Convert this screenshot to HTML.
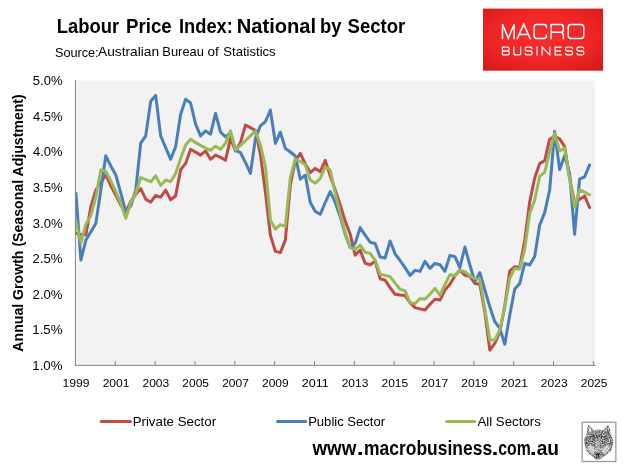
<!DOCTYPE html>
<html><head><meta charset="utf-8"><title>Labour Price Index</title>
<style>
html,body{margin:0;padding:0;background:#fff;}
body{width:623px;height:472px;overflow:hidden;font-family:"Liberation Sans",sans-serif;}
svg{display:block;will-change:transform;}
text{font-family:"Liberation Sans",sans-serif;fill:#000;}
</style></head><body>
<svg width="623" height="472" viewBox="0 0 623 472">
<defs>
<radialGradient id="lg" cx="50%" cy="45%" r="70%">
<stop offset="0" stop-color="#fb2d2d"/><stop offset="0.6" stop-color="#ef2525"/><stop offset="1" stop-color="#d41a1a"/>
</radialGradient>
<filter id="sp" x="0" y="0" width="100%" height="100%">
<feTurbulence type="fractalNoise" baseFrequency="0.85" numOctaves="2" seed="7" result="n"/>
<feColorMatrix in="n" type="matrix" values="0 0 0 0 1  0 0 0 0 1  0 0 0 0 1  0 0 0 2.4 -1.15" result="w"/>
<feComposite in="w" in2="SourceGraphic" operator="in" result="wi"/>
<feTurbulence type="fractalNoise" baseFrequency="0.8" numOctaves="2" seed="23" result="n2"/>
<feColorMatrix in="n2" type="matrix" values="0 0 0 0 0.1  0 0 0 0 0.1  0 0 0 0 0.1  0 0 0 2.4 -1.2" result="k"/>
<feComposite in="k" in2="SourceGraphic" operator="in" result="ki"/>
<feMerge><feMergeNode in="SourceGraphic"/><feMergeNode in="ki"/><feMergeNode in="wi"/></feMerge>
</filter>
<clipPath id="pc"><rect x="75" y="80" width="521" height="286"/></clipPath>
</defs>
<rect width="623" height="472" fill="#fff"/>
<!-- title -->
<text x="56.80" y="32.9" font-size="21" font-weight="bold" textLength="62.35" lengthAdjust="spacingAndGlyphs">Labour</text>
<text x="126.09" y="32.9" font-size="21" font-weight="bold" textLength="45.59" lengthAdjust="spacingAndGlyphs">Price</text>
<text x="179.01" y="32.9" font-size="21" font-weight="bold" textLength="53.81" lengthAdjust="spacingAndGlyphs">Index:</text>
<text x="236.69" y="32.9" font-size="21" font-weight="bold" textLength="79.42" lengthAdjust="spacingAndGlyphs">National</text>
<text x="320.11" y="32.9" font-size="21" font-weight="bold" textLength="21.42" lengthAdjust="spacingAndGlyphs">by</text>
<text x="347.54" y="32.9" font-size="21" font-weight="bold" textLength="57.69" lengthAdjust="spacingAndGlyphs">Sector</text>
<text x="54.93" y="57.1" font-size="13.6" textLength="43.73" lengthAdjust="spacingAndGlyphs">Source:</text>
<text x="98.03" y="56.3" font-size="13.6" textLength="61.09" lengthAdjust="spacingAndGlyphs">Australian</text>
<text x="162.37" y="56.3" font-size="13.6" textLength="41.57" lengthAdjust="spacingAndGlyphs">Bureau</text>
<text x="207.56" y="56.3" font-size="13.6" textLength="11.33" lengthAdjust="spacingAndGlyphs">of</text>
<text x="223.31" y="56.3" font-size="13.6" textLength="52.36" lengthAdjust="spacingAndGlyphs">Statistics</text>

<!-- logo -->
<rect x="483" y="8.6" width="120" height="62.1" fill="url(#lg)"/>
<g fill="none" stroke="#fff" stroke-width="1.45" stroke-linejoin="miter" stroke-linecap="butt" transform="translate(543.6,31.5) scale(1.01,1.06) translate(-543.6,-31.5)">
<path d="M502.9,38.9 V24.6 L508.65,38 L514.4,24.6 V38.9"/>
<path d="M517.2,38.9 L523.9,24.6 L530.6,38.9 M519.3,34.3 H528.5"/>
<path d="M546.5,28.6 V27.4 Q546.5,24.85 544,24.85 H536.8 Q534.2,24.85 534.2,27.4 V35.6 Q534.2,38.15 536.8,38.15 H544 Q546.5,38.15 546.5,35.6 V34.4"/>
<path d="M551.1,38.9 V24.85 H560.6 Q563.2,24.85 563.2,27.4 V29.7 Q563.2,32.2 560.6,32.2 H551.1 M560.4,32.2 Q563.2,32.3 563.2,35 V38.9"/>
<rect x="567.95" y="24.85" width="15.4" height="13.3" rx="2.8" ry="2.8"/>
</g>
<g fill="none" stroke="#fff" stroke-width="1.15" stroke-linejoin="miter" stroke-linecap="butt" transform="translate(543.6,51.05) scale(1.008,1.1) translate(-543.6,-51.05)">
<path d="M502.8,54.6 V47.5 H507.8 Q509.3,47.5 509.3,49 V49.6 Q509.3,51 507.8,51 H502.8 M507.8,51 Q509.6,51 509.6,52.6 V53 Q509.6,54.6 507.8,54.6 H502.8"/>
<path d="M514.1,46.9 V52.8 Q514.1,54.6 516,54.6 H519 Q520.9,54.6 520.9,52.8 V46.9"/>
<path d="M532.1,49.3 V49.1 Q532.1,47.5 530.4,47.5 H527.0 Q525.3,47.5 525.3,49.1 V49.5 Q525.3,51 527.0,51 H530.5 Q532.2,51 532.2,52.6 V53 Q532.2,54.6 530.5,54.6 H527.0 Q525.3,54.6 525.3,53 V52.8"/>
<path d="M537,46.9 V55.2"/>
<path d="M542.1,55.2 V47.4 L549.8,54.7 V46.9"/>
<path d="M561.6,47.5 H555 V54.6 H561.6 M555,51 H560.8"/>
<path d="M572.2,49.3 V49.1 Q572.2,47.5 570.5,47.5 H567.1 Q565.4,47.5 565.4,49.1 V49.5 Q565.4,51 567.1,51 H570.6 Q572.3,51 572.3,52.6 V53 Q572.3,54.6 570.6,54.6 H567.1 Q565.4,54.6 565.4,53 V52.8"/>
<path d="M583.4,49.3 V49.1 Q583.4,47.5 581.7,47.5 H578.3 Q576.6,47.5 576.6,49.1 V49.5 Q576.6,51 578.3,51 H581.8 Q583.5,51 583.5,52.6 V53 Q583.5,54.6 581.8,54.6 H578.3 Q576.6,54.6 576.6,53 V52.8"/>
</g>
<!-- plot -->
<rect x="75.4" y="80.7" width="519.5" height="284.7" fill="#f2f2f2"/>
<g clip-path="url(#pc)" fill="none" stroke-width="3" stroke-linejoin="round" stroke-linecap="round">
<path d="M75.90,233.1 L80.89,234.7 L85.87,234.7 L90.86,206.7 L95.85,190.0 L100.84,182.5 L105.82,175.0 L110.81,186.0 L115.80,195.0 L120.78,205.0 L125.77,211.8 L130.76,201.7 L135.74,194.2 L140.73,188.7 L145.72,199.2 L150.71,202.1 L155.69,195.4 L160.68,197.1 L165.67,190.1 L170.65,199.7 L175.64,195.9 L180.63,169.7 L185.61,163.4 L190.60,149.3 L195.59,152.1 L200.57,155.1 L205.56,150.9 L210.55,159.3 L215.54,155.1 L220.52,157.4 L225.51,160.3 L230.50,138.4 L235.48,151.0 L240.47,142.6 L245.46,125.1 L250.45,127.6 L255.43,130.4 L260.42,154.5 L265.41,192.0 L270.39,235.1 L275.38,251.4 L280.37,252.6 L285.35,240.1 L290.34,185.0 L295.33,161.0 L300.31,153.3 L305.30,164.0 L310.29,172.6 L315.28,168.4 L320.26,171.7 L325.25,160.4 L330.24,176.0 L335.22,190.0 L340.21,205.0 L345.20,221.0 L350.19,234.2 L355.17,255.1 L360.16,250.1 L365.15,263.2 L370.13,264.8 L375.12,261.2 L380.11,278.7 L385.09,280.1 L390.08,287.6 L395.07,294.3 L400.06,295.1 L405.04,295.6 L410.03,302.6 L415.02,307.6 L420.00,308.9 L424.99,310.1 L429.98,304.3 L434.96,299.3 L439.95,300.1 L444.94,290.1 L449.93,284.2 L454.91,275.9 L459.90,270.0 L464.89,275.2 L469.87,276.4 L474.86,283.4 L479.85,284.2 L484.83,312.0 L489.82,350.1 L494.81,343.4 L499.79,332.0 L504.78,306.0 L509.77,270.9 L514.76,266.7 L519.74,267.5 L524.73,240.0 L529.72,201.7 L534.70,178.0 L539.69,163.6 L544.68,160.6 L549.66,139.2 L554.65,136.2 L559.64,138.9 L564.63,146.6 L569.61,178.0 L574.60,203.0 L579.59,199.2 L584.57,195.9 L589.56,207.5" stroke="#be4b48"/>
<path d="M75.90,193.4 L80.89,260.1 L85.87,240.1 L90.86,231.7 L95.85,223.4 L100.84,190.0 L105.82,155.8 L110.81,166.0 L115.80,175.0 L120.78,193.0 L125.77,212.0 L130.76,206.0 L135.74,190.1 L140.73,143.1 L145.72,135.9 L150.71,101.2 L155.69,95.4 L160.68,135.9 L165.67,147.6 L170.65,159.3 L175.64,146.8 L180.63,114.2 L185.61,99.2 L190.60,103.0 L195.59,124.2 L200.57,135.9 L205.56,130.9 L210.55,134.2 L215.54,113.4 L220.52,132.0 L225.51,136.8 L230.50,133.0 L235.48,150.1 L240.47,152.6 L245.46,162.5 L250.45,173.4 L255.43,138.4 L260.42,125.9 L265.41,121.7 L270.39,110.0 L275.38,143.4 L280.37,132.2 L285.35,148.4 L290.34,152.0 L295.33,156.0 L300.31,179.2 L305.30,175.1 L310.29,202.6 L315.28,211.4 L320.26,214.3 L325.25,202.5 L330.24,191.5 L335.22,202.5 L340.21,216.7 L345.20,234.2 L350.19,247.6 L355.17,243.4 L360.16,227.6 L365.15,235.1 L370.13,242.2 L375.12,243.5 L380.11,257.0 L385.09,258.0 L390.08,241.0 L395.07,253.8 L400.06,260.5 L405.04,267.6 L410.03,275.4 L415.02,270.4 L420.00,271.4 L424.99,261.4 L429.98,268.4 L434.96,263.4 L439.95,264.7 L444.94,271.4 L449.93,255.4 L454.91,256.7 L459.90,267.5 L464.89,247.0 L469.87,265.0 L474.86,281.7 L479.85,272.6 L484.83,290.0 L489.82,306.8 L494.81,321.7 L499.79,328.4 L504.78,344.3 L509.77,315.0 L514.76,289.0 L519.74,283.4 L524.73,263.4 L529.72,265.0 L534.70,256.5 L539.69,225.1 L544.68,212.6 L549.66,190.0 L554.65,131.5 L559.64,169.5 L564.63,155.5 L569.61,173.2 L574.60,234.3 L579.59,179.1 L584.57,176.9 L589.56,165.0" stroke="#4a7ebb"/>
<path d="M75.90,221.5 L80.89,243.1 L85.87,224.2 L90.86,215.5 L95.85,197.0 L100.84,169.7 L105.82,171.4 L110.81,181.0 L115.80,191.7 L120.78,203.4 L125.77,218.4 L130.76,202.6 L135.74,193.4 L140.73,177.5 L145.72,179.7 L150.71,181.7 L155.69,175.9 L160.68,185.4 L165.67,180.0 L170.65,181.7 L175.64,173.4 L180.63,158.5 L185.61,145.1 L190.60,139.3 L195.59,142.6 L200.57,145.4 L205.56,148.1 L210.55,150.4 L215.54,146.2 L220.52,149.3 L225.51,143.4 L230.50,130.9 L235.48,150.1 L240.47,145.3 L245.46,140.6 L250.45,135.8 L255.43,130.9 L260.42,145.0 L265.41,166.7 L270.39,220.0 L275.38,229.2 L280.37,224.6 L285.35,226.4 L290.34,177.6 L295.33,159.0 L300.31,161.5 L305.30,164.7 L310.29,180.1 L315.28,183.2 L320.26,178.4 L325.25,167.0 L330.24,170.0 L335.22,193.4 L340.21,213.4 L345.20,232.6 L350.19,247.6 L355.17,249.3 L360.16,245.1 L365.15,252.2 L370.13,253.4 L375.12,260.0 L380.11,274.2 L385.09,275.4 L390.08,276.7 L395.07,283.1 L400.06,289.2 L405.04,290.9 L410.03,302.6 L415.02,303.8 L420.00,298.4 L424.99,299.3 L429.98,294.3 L434.96,288.4 L439.95,295.1 L444.94,284.7 L449.93,274.7 L454.91,275.6 L459.90,270.5 L464.89,271.7 L469.87,275.9 L474.86,278.7 L479.85,279.2 L484.83,308.4 L489.82,340.1 L494.81,340.1 L499.79,330.1 L504.78,306.7 L509.77,278.4 L514.76,268.4 L519.74,269.2 L524.73,249.0 L529.72,213.4 L534.70,200.0 L539.69,176.3 L544.68,172.4 L549.66,151.8 L554.65,133.3 L559.64,151.0 L564.63,148.1 L569.61,179.0 L574.60,207.5 L579.59,190.0 L584.57,192.0 L589.56,194.7" stroke="#98b954"/>
</g>
<line x1="75.4" y1="80" x2="75.4" y2="365.9" stroke="#868686" stroke-width="1"/>
<line x1="74.9" y1="365.4" x2="595.7" y2="365.4" stroke="#868686" stroke-width="1"/>
<line x1="75.46" y1="361" x2="75.46" y2="365.4" stroke="#868686" stroke-width="1"/>
<line x1="115.30" y1="361" x2="115.30" y2="365.4" stroke="#868686" stroke-width="1"/>
<line x1="155.14" y1="361" x2="155.14" y2="365.4" stroke="#868686" stroke-width="1"/>
<line x1="194.98" y1="361" x2="194.98" y2="365.4" stroke="#868686" stroke-width="1"/>
<line x1="234.82" y1="361" x2="234.82" y2="365.4" stroke="#868686" stroke-width="1"/>
<line x1="274.66" y1="361" x2="274.66" y2="365.4" stroke="#868686" stroke-width="1"/>
<line x1="314.50" y1="361" x2="314.50" y2="365.4" stroke="#868686" stroke-width="1"/>
<line x1="354.34" y1="361" x2="354.34" y2="365.4" stroke="#868686" stroke-width="1"/>
<line x1="394.18" y1="361" x2="394.18" y2="365.4" stroke="#868686" stroke-width="1"/>
<line x1="434.02" y1="361" x2="434.02" y2="365.4" stroke="#868686" stroke-width="1"/>
<line x1="473.86" y1="361" x2="473.86" y2="365.4" stroke="#868686" stroke-width="1"/>
<line x1="513.70" y1="361" x2="513.70" y2="365.4" stroke="#868686" stroke-width="1"/>
<line x1="553.54" y1="361" x2="553.54" y2="365.4" stroke="#868686" stroke-width="1"/>
<line x1="593.38" y1="361" x2="593.38" y2="365.4" stroke="#868686" stroke-width="1"/>

<text x="32.78" y="85.30" font-size="13" textLength="29.77" lengthAdjust="spacingAndGlyphs">5.0%</text>
<text x="32.98" y="120.85" font-size="13" textLength="29.57" lengthAdjust="spacingAndGlyphs">4.5%</text>
<text x="32.98" y="156.40" font-size="13" textLength="29.57" lengthAdjust="spacingAndGlyphs">4.0%</text>
<text x="32.78" y="191.95" font-size="13" textLength="29.77" lengthAdjust="spacingAndGlyphs">3.5%</text>
<text x="32.78" y="227.50" font-size="13" textLength="29.77" lengthAdjust="spacingAndGlyphs">3.0%</text>
<text x="32.64" y="263.05" font-size="13" textLength="29.91" lengthAdjust="spacingAndGlyphs">2.5%</text>
<text x="32.64" y="298.60" font-size="13" textLength="29.91" lengthAdjust="spacingAndGlyphs">2.0%</text>
<text x="32.30" y="334.15" font-size="13" textLength="30.25" lengthAdjust="spacingAndGlyphs">1.5%</text>
<text x="32.30" y="369.70" font-size="13" textLength="30.25" lengthAdjust="spacingAndGlyphs">1.0%</text>

<text x="62.50" y="387.1" font-size="11.5" textLength="27.06" lengthAdjust="spacingAndGlyphs">1999</text>
<text x="102.65" y="387.1" font-size="11.5" textLength="26.80" lengthAdjust="spacingAndGlyphs">2001</text>
<text x="142.49" y="387.1" font-size="11.5" textLength="26.74" lengthAdjust="spacingAndGlyphs">2003</text>
<text x="182.33" y="387.1" font-size="11.5" textLength="26.68" lengthAdjust="spacingAndGlyphs">2005</text>
<text x="222.17" y="387.1" font-size="11.5" textLength="26.80" lengthAdjust="spacingAndGlyphs">2007</text>
<text x="262.01" y="387.1" font-size="11.5" textLength="26.74" lengthAdjust="spacingAndGlyphs">2009</text>
<text x="301.83" y="387.1" font-size="11.5" textLength="26.85" lengthAdjust="spacingAndGlyphs">2011</text>
<text x="341.69" y="387.1" font-size="11.5" textLength="26.74" lengthAdjust="spacingAndGlyphs">2013</text>
<text x="381.53" y="387.1" font-size="11.5" textLength="26.68" lengthAdjust="spacingAndGlyphs">2015</text>
<text x="421.37" y="387.1" font-size="11.5" textLength="26.80" lengthAdjust="spacingAndGlyphs">2017</text>
<text x="461.21" y="387.1" font-size="11.5" textLength="26.74" lengthAdjust="spacingAndGlyphs">2019</text>
<text x="501.05" y="387.1" font-size="11.5" textLength="26.80" lengthAdjust="spacingAndGlyphs">2021</text>
<text x="540.89" y="387.1" font-size="11.5" textLength="26.74" lengthAdjust="spacingAndGlyphs">2023</text>
<text x="580.73" y="387.1" font-size="11.5" textLength="26.68" lengthAdjust="spacingAndGlyphs">2025</text>

<g transform="translate(23.1,351.3) rotate(-90)"><text x="-0.35" y="0" font-size="15" font-weight="bold" textLength="257.42" lengthAdjust="spacingAndGlyphs">Annual Growth (Seasonal Adjustment)</text>
</g>
<!-- legend -->
<g stroke-width="3" stroke-linecap="round">
<line x1="101.3" y1="421.4" x2="130.4" y2="421.4" stroke="#be4b48"/>
<line x1="277.6" y1="421.4" x2="305.6" y2="421.4" stroke="#4a7ebb"/>
<line x1="446.6" y1="421.4" x2="474.6" y2="421.4" stroke="#98b954"/>
</g>
<text x="132.64" y="426.2" font-size="13.6" textLength="83.43" lengthAdjust="spacingAndGlyphs">Private Sector</text>
<text x="308.15" y="426.2" font-size="13.6" textLength="76.96" lengthAdjust="spacingAndGlyphs">Public Sector</text>
<text x="477.43" y="426.2" font-size="13.6" textLength="63.42" lengthAdjust="spacingAndGlyphs">All Sectors</text>
<text x="312.50" y="454.5" font-size="19.5" font-weight="bold" textLength="43.77" lengthAdjust="spacingAndGlyphs">www</text>
<text x="356.75" y="454.5" font-size="19.5" font-weight="bold" textLength="6.95" lengthAdjust="spacingAndGlyphs">.</text>
<text x="363.96" y="454.5" font-size="19.5" font-weight="bold" textLength="128.16" lengthAdjust="spacingAndGlyphs">macrobusiness</text>
<text x="491.55" y="454.5" font-size="19.5" font-weight="bold" textLength="6.95" lengthAdjust="spacingAndGlyphs">.</text>
<text x="498.27" y="454.5" font-size="19.5" font-weight="bold" textLength="32.48" lengthAdjust="spacingAndGlyphs">com</text>
<text x="529.75" y="454.5" font-size="19.5" font-weight="bold" textLength="6.95" lengthAdjust="spacingAndGlyphs">.</text>
<text x="536.63" y="454.5" font-size="19.5" font-weight="bold" textLength="22.36" lengthAdjust="spacingAndGlyphs">au</text>

<!-- wolf -->
<g id="wolf">
<rect x="582.15" y="422.3" width="33.7" height="39.2" fill="#fff" stroke="#9b9b9b" stroke-width="1.3"/>
<g filter="url(#sp)">
<path d="M588.4,424.7 L591,427.2 L594,430.6 L598.6,429.4 L603.3,430.2 L606,426.8 L607.9,424.7 L609.8,429 L610.7,434 L613.1,440.5 L612.6,445 L611.7,449.8 L607.5,454 L602.5,457.5 L599.5,459.6 L596,459.6 L593,457 L589.5,454 L586.5,450.7 L585,445.5 L584.2,439.6 L586.4,435 L587,432.1 L587.3,428 Z" fill="#747474"/>
<path d="M589.2,427.6 L592.6,431.2 L588.8,432.6 Z" fill="#dcdcdc"/>
<path d="M606.3,427.8 L605.2,431 L607.2,431.6 Z" fill="#d0d0d0"/>
<path d="M607.6,427 L609.6,433.6 L607.6,432.4 Z" fill="#1c1c1c"/>
<path d="M587.4,446.6 L590.5,445 L594.2,447 L594.8,451.6 L592.6,454.4 L588.6,450.6 Z" fill="#cfcfcf"/>
<path d="M610.2,446.6 L607,445 L603,447 L602,451.6 L604.2,454.6 L609,450.4 Z" fill="#cfcfcf"/>
<path d="M596,436.5 L599.6,436.5 L600.6,451.5 L597.8,453.6 L595.2,451.5 Z" fill="#a4a4a4"/>
<path d="M590,440 L594.6,441.3 L592.6,442.8 Z" fill="#181818"/>
<path d="M605.6,440.6 L601,441.8 L603,443.3 Z" fill="#181818"/>
<path d="M595.8,453 L599.4,453 L598.8,457.4 L596.6,457.4 Z" fill="#111"/>
<path d="M587,437 L595.5,434 L598,436.6 L600.6,434 L610.5,437.5 L605,439.8 L598,438.4 L592,439.4 Z" fill="#4c4c4c"/>
<path d="M584.6,440 L589,441.5 L589.5,445 L585.4,445.5 Z M612.6,441 L608,442.4 L607.6,445 L612.2,445.6 Z" fill="#555"/>
</g>
</g>
</svg>
</body></html>
